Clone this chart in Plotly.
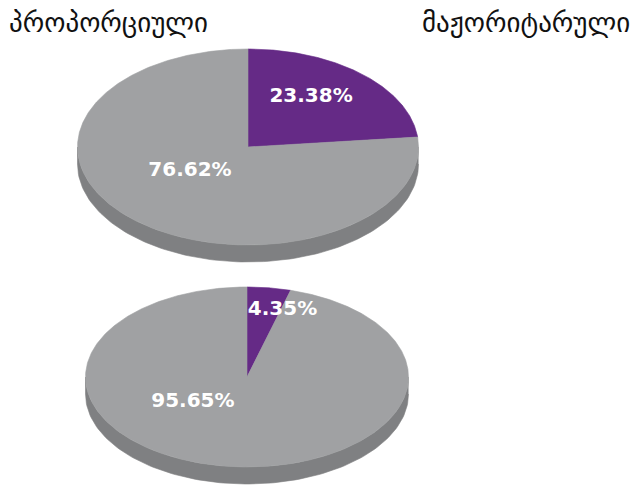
import numpy as np
import plotly.graph_objects as go

# ---- data ----
titles = ["პროპორციული", "მაჟორიტარული"]
slice_names = ["purple", "gray"]
pie1_values = [23.38, 76.62]
pie2_values = [4.35, 95.65]

# ---- style ----
W, H = 635, 486
face_colors = ["#652a86", "#a0a1a3"]
side_colors = ["#4a1f63", "#7f8082"]
pies = [
    dict(values=pie1_values, cx=248, cy=147, rx=170.5, ry=98, h=17,
         label_uv=[(0.37, -0.51), (-0.34, 0.245)]),
    dict(values=pie2_values, cx=247, cy=377, rx=161.5, ry=90, h=17,
         label_uv=[(0.22, -0.745), (-0.335, 0.28)]),
]

fig = go.Figure()


def pt(p, theta_deg, dy=0.0):
    t = np.radians(theta_deg)
    return p["cx"] + p["rx"] * np.sin(t), p["cy"] - p["ry"] * np.cos(t) + dy


for p in pies:
    vals = np.array(p["values"], dtype=float)
    bounds = np.concatenate([[0], np.cumsum(vals) / vals.sum() * 360.0])
    # side band (visible front half: 90..270 deg, clockwise from top)
    for i in range(len(vals)):
        a0, a1 = max(bounds[i], 90), min(bounds[i + 1], 270)
        if a1 <= a0:
            continue
        th = np.linspace(a0, a1, 120)
        xt, yt = pt(p, th)
        xb, yb = pt(p, th[::-1], p["h"])
        fig.add_trace(go.Scatter(
            x=np.concatenate([xt, xb]), y=np.concatenate([yt, yb]),
            fill="toself", fillcolor=side_colors[i], mode="lines",
            line=dict(color=side_colors[i], width=0.6),
            hoverinfo="skip", showlegend=False))
    # top face slices
    for i in range(len(vals)):
        n = max(4, int((bounds[i + 1] - bounds[i]) * 2))
        th = np.linspace(bounds[i], bounds[i + 1], n)
        xa, ya = pt(p, th)
        fig.add_trace(go.Scatter(
            x=np.concatenate([[p["cx"]], xa, [p["cx"]]]),
            y=np.concatenate([[p["cy"]], ya, [p["cy"]]]),
            fill="toself", fillcolor=face_colors[i], mode="lines",
            line=dict(color=face_colors[i], width=0.6),
            name=slice_names[i], hoverinfo="skip", showlegend=False))
    # value labels
    lx = [p["cx"] + u * p["rx"] for u, v in p["label_uv"]]
    ly = [p["cy"] + v * p["ry"] for u, v in p["label_uv"]]
    fig.add_trace(go.Scatter(
        x=lx, y=ly, mode="text",
        text=[f"{v:.2f}%" for v in vals],
        textfont=dict(family="DejaVu Sans", size=20, color="white", weight="bold"),
        hoverinfo="skip", showlegend=False))

fig.add_annotation(x=7, y=22, xref="x", yref="y", text=titles[0],
                   showarrow=False, xanchor="left", yanchor="middle",
                   font=dict(family="DejaVu Sans", size=27, color="#111111"))
fig.add_annotation(x=632, y=22, xref="x", yref="y", text=titles[1],
                   showarrow=False, xanchor="right", yanchor="middle",
                   font=dict(family="DejaVu Sans", size=27, color="#111111"))

fig.update_layout(
    width=W, height=H, margin=dict(l=0, r=0, t=0, b=0),
    paper_bgcolor="white", plot_bgcolor="white",
    xaxis=dict(range=[0, W], visible=False, fixedrange=True),
    yaxis=dict(range=[H, 0], visible=False, fixedrange=True),
)
fig.write_html("out.html", config={"displayModeBar": False},
               post_script="document.body.style.margin='0';document.body.style.overflow='hidden';")
